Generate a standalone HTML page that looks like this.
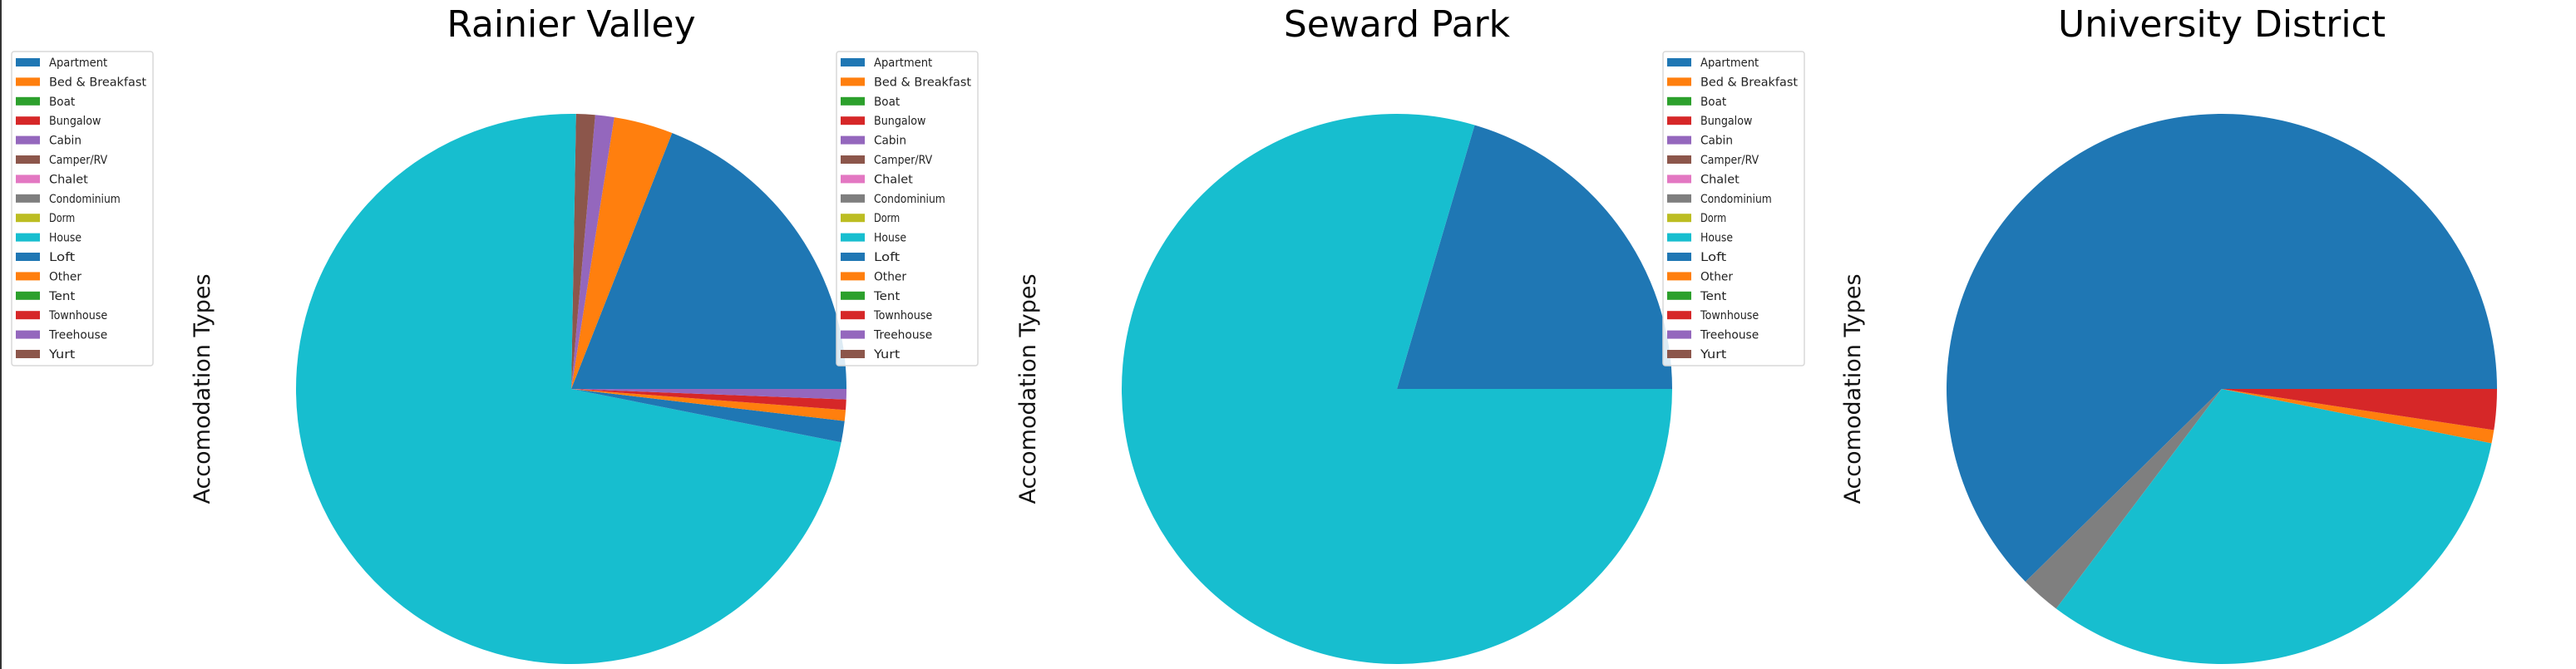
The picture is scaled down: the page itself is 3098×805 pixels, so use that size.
<!DOCTYPE html>
<html><head><meta charset="utf-8"><style>
html,body{margin:0;padding:0;background:#fff;}
svg{display:block;}
text{font-family:"DejaVu Sans","Liberation Sans",sans-serif;}
</style></head>
<body>
<svg id="chart" width="3098" height="805" viewBox="0 0 3098 805" xmlns="http://www.w3.org/2000/svg">
<rect x="0" y="0" width="3098" height="805" fill="#fff"/>
<rect x="0" y="0" width="2" height="805" fill="#333"/>
</svg>
<script>
// Data
const categories = ["Apartment","Bed & Breakfast","Boat","Bungalow","Cabin","Camper/RV","Chalet","Condominium","Dorm","House","Loft","Other","Tent","Townhouse","Treehouse","Yurt"];
const palette = ["#1f77b4","#ff7f0e","#2ca02c","#d62728","#9467bd","#8c564b","#e377c2","#7f7f7f","#bcbd22","#17becf"];
const panelTitles = ["Rainier Valley","Seward Park","University District"];
// values (share in degrees-equivalent units) per category
const rainierValues = [68.5,12.5,0,0,4,4,0,0,0,259.8,4.5,2.3,0,2.2,2.2,0];
const sewardValues = [73.6,0,0,0,0,0,0,0,0,286.4,0,0,0,0,0,0];
const universityValues = [224.5,0,0,0,0,0,0,8.5,0,115.6,0,2.8,0,8.6,0,0];
const yLabel = "Accomodation Types";

const NS = "http://www.w3.org/2000/svg";
const svg = document.getElementById('chart');
function mk(tag, attrs, parent){
  const e = document.createElementNS(NS, tag);
  for (const k in attrs) e.setAttribute(k, attrs[k]);
  (parent||svg).appendChild(e);
  return e;
}
const panels = [
  {values: rainierValues, cx: 687, legendX: 14},
  {values: sewardValues, cx: 1680, legendX: 1006},
  {values: universityValues, cx: 2672, legendX: 2000}
];
const cy = 468, R = 331;

panels.forEach((p, pi) => {
  const g = mk('g', {});
  
  
  const t = mk('text', {x: p.cx, y: 44, 'font-size': 44, 'text-anchor': 'middle', fill: '#000'}, g);
  t.textContent = panelTitles[pi];
  
  
  const yl = mk('text', {x: 0, y: 0, 'font-size': 27, 'text-anchor': 'middle', fill: '#111',
    transform: `translate(${p.cx-435},${cy}) rotate(-90)`}, g);
  yl.textContent = yLabel;
  
  
  const total = p.values.reduce((a,b)=>a+b,0);
  let ang = 0;
  p.values.forEach((v, i) => {
    if (v <= 0) return;
    const a0 = ang, a1 = ang + v/total*2*Math.PI;
    ang = a1;
    const x0 = p.cx + R*Math.cos(a0), y0 = cy - R*Math.sin(a0);
    const x1 = p.cx + R*Math.cos(a1), y1 = cy - R*Math.sin(a1);
    const large = (a1-a0) > Math.PI ? 1 : 0;
    const s = mk('path', {d: `M${p.cx},${cy} L${x0},${y0} A${R},${R} 0 ${large} 0 ${x1},${y1} Z`, fill: palette[i%10]}, g);
    
    
  });
  const lg = mk('g', {}, g);
  
  
  const lx = p.legendX, ly = 62;
  mk('rect', {x: lx, y: ly, width: 170, height: 378, rx: 3, fill: '#fff', 'fill-opacity': 0.85, stroke: '#d8d8d8', 'stroke-width': 1.5}, lg);
  categories.forEach((c, i) => {
    const e = mk('g', {}, lg);
    
    
    const yy = ly + 13 + i*23.4;
    mk('rect', {x: lx+5, y: yy-5, width: 29, height: 10, fill: palette[i%10]}, e);
    const tx = mk('text', {x: lx+45, y: yy+5, 'font-size': 14, fill: '#222', textLength: Math.min(118, c.length*7.8), lengthAdjust: 'spacingAndGlyphs'}, e);
    tx.textContent = c;
  });
});
</script>
</body></html>
